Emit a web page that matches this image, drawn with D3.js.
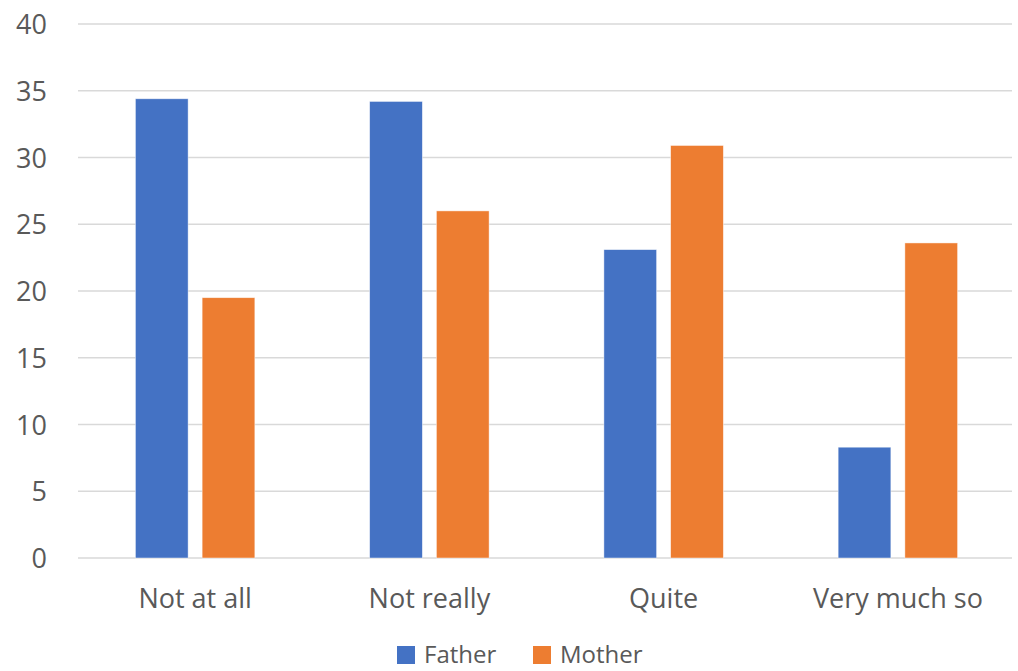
<!DOCTYPE html>
<html>
<head>
<meta charset="utf-8">
<script src="https://cdn.jsdelivr.net/npm/d3@7"></script>
<style>
  html, body { margin: 0; padding: 0; background: #fff; overflow: hidden; }
  svg { display: block; }
  text { font-family: "Open Sans", "Noto Sans", sans-serif; fill: #595959; }
</style>
</head>
<body>
<svg id="chart" width="1018" height="671"></svg>
<script>
// Responses grouped by answer, one value per parent
const categories = ["Not at all", "Not really", "Quite", "Very much so"];
const seriesNames = ["Father", "Mother"];
const fatherValues = [34.4, 34.2, 23.1, 8.3];
const motherValues = [19.5, 26.0, 30.9, 23.6];
const yTicks = [0, 5, 10, 15, 20, 25, 30, 35, 40];
const seriesColors = ["#4472C4", "#ED7D31"];

const seriesValues = [fatherValues, motherValues];
const rows = categories.map((c, i) => ({
  category: c,
  values: seriesNames.map((s, j) => ({ series: s, value: seriesValues[j][i] }))
}));

const FONT = "'Open Sans', 'Noto Sans', sans-serif";
const svg = d3.select("#chart");
const plot = { left: 78, right: 1015, top: 24, bottom: 558 };

const x0 = d3.scaleBand()
  .domain(categories)
  .range([plot.left, plot.right])
  .padding(0);

const x1 = d3.scaleBand()
  .domain(seriesNames)
  .range([0, x0.bandwidth()])
  .paddingInner(0.21)
  .paddingOuter(0.86);

const y = d3.scaleLinear()
  .domain([0, 40])
  .range([plot.bottom, plot.top]);

const color = d3.scaleOrdinal().domain(seriesNames).range(seriesColors);

// Horizontal gridlines
svg.append("g")
  .selectAll("line")
  .data(yTicks)
  .join("line")
  .attr("x1", plot.left)
  .attr("x2", 1012)
  .attr("y1", d => y(d))
  .attr("y2", d => y(d))
  .attr("stroke", "#d9d9d9")
  .attr("stroke-width", 1.5);

// Y axis labels
const yAxis = d3.axisLeft(y).tickValues(yTicks).tickSize(0).tickPadding(0);
const yg = svg.append("g")
  .attr("transform", "translate(47,0)")
  .call(yAxis);
yg.select(".domain").remove();
yg.selectAll("text")
  .attr("font-size", 27)
  .attr("fill", "#595959")
  .attr("dy", "0.36em")
  .style("font-family", FONT);

// Bars
svg.append("g")
  .selectAll("g")
  .data(rows)
  .join("g")
  .attr("transform", d => `translate(${x0(d.category)},0)`)
  .selectAll("rect")
  .data(d => d.values)
  .join("rect")
  .attr("x", d => x1(d.series))
  .attr("width", x1.bandwidth())
  .attr("y", d => y(d.value))
  .attr("height", d => y(0) - y(d.value))
  .attr("fill", d => color(d.series))
  .attr("stroke", "#ffffff")
  .attr("stroke-opacity", 0.6)
  .attr("stroke-width", 0.75);

// Category labels
const xAxis = d3.axisBottom(x0).tickSize(0).tickPadding(0);
const xg = svg.append("g")
  .attr("transform", `translate(0,${plot.bottom})`)
  .call(xAxis);
xg.select(".domain").remove();
xg.selectAll("text")
  .attr("y", 50)
  .attr("dy", 0)
  .attr("font-size", 27)
  .attr("fill", "#595959")
  .style("font-family", FONT);

// Legend
const legendItems = [
  { name: "Father", sx: 397, tx: 424 },
  { name: "Mother", sx: 533, tx: 560 }
];
const legend = svg.append("g");
legend.selectAll("rect")
  .data(legendItems)
  .join("rect")
  .attr("x", d => d.sx)
  .attr("y", 646)
  .attr("width", 18)
  .attr("height", 18)
  .attr("fill", d => color(d.name));
legend.selectAll("text")
  .data(legendItems)
  .join("text")
  .attr("x", d => d.tx)
  .attr("y", 663)
  .attr("font-size", 24)
  .text(d => d.name);
</script>
</body>
</html>
